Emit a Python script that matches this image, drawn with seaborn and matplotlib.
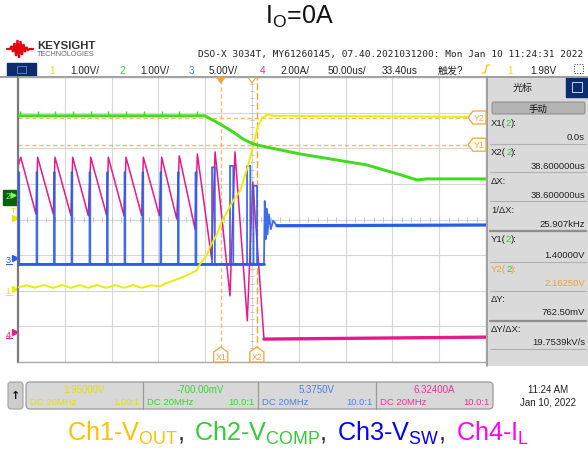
import numpy as np
import matplotlib
matplotlib.use("Agg")
import matplotlib.pyplot as plt
import seaborn as sns
from matplotlib.patches import FancyBboxPatch, Rectangle, Polygon
from matplotlib.offsetbox import TextArea, HPacker, AnnotationBbox, DrawingArea

sns.set_theme(style="white")
plt.rcParams['font.family'] = ['Liberation Sans', 'Noto Sans CJK SC', 'DejaVu Sans']
plt.rcParams['mathtext.fontset'] = 'custom'
plt.rcParams['mathtext.rm'] = 'Liberation Sans'
plt.rcParams['mathtext.it'] = 'Liberation Sans:italic'
plt.rcParams['mathtext.bf'] = 'Liberation Sans:bold'

# ---------------- scope settings ----------------
ch_names = ["1", "2", "3", "4"]
ch_scale = [1.00, 1.00, 5.00, 2.00]
ch_offset = [1.95, -0.70, 5.375, 6.324]
ch_scale_text = ["1.00V/", "1.00V/", "5.00V/", "2.00A/"]
ch_offset_text = ["1.95000V", "-700.00mV", "5.3750V", "6.32400A"]
ch_probe_text = ["1.00:1", "10.0:1", "10.0:1", "10.0:1"]
trace_colors = ['#ecec0a', '#3ddc1c', '#2a5ce8', '#e8198c']
text_colors = ['#e6e000', '#33d633', '#4d7fe6', '#e6359a']
legend_colors = ['#FFC000', '#33CC33', '#0000FF', '#FF00FF']
time_per_div = 50.0   # us/div
time_delay = 33.40    # us
trig_level = 1.98     # V on ch1
x1_cursor = 0.0       # us
x2_cursor = 38.6      # us
y1_cursor = 1.40      # V on ch2
y2_cursor = 2.1625    # V on ch2

# ---------------- waveforms (time in us) ----------------
# Ch1 VOUT
vout_t = [-216.6, -207.0, -198.4, -188.8, -179.2, -169.6, -160.0, -150.4, -141.8, -132.2,
          -122.6, -113.0, -103.4, -93.7, -84.1, -74.5, -64.9, -57.4, -48.9, -40.3,
          -33.2, -25.4, -22.2, -14.7, -11.5, -4.0, 1.4, 13.1, 20.6, 29.1,
          34.5, 39.8, 44.1, 49.4, 58.0, 283.4]
vout_v = [0.05, 0.10, 0.04, 0.11, 0.03, 0.11, 0.03, 0.11, 0.03, 0.11,
          0.03, 0.11, 0.03, 0.11, 0.03, 0.10, 0.08, 0.17, 0.25, 0.34,
          0.42, 0.53, 0.70, 0.95, 1.18, 1.54, 1.91, 2.47, 2.75, 3.45,
          4.01, 4.58, 4.80, 4.89, 4.86, 4.83]
# Ch2 VCOMP
vcomp_t = [-216.6, -16.8, -0.8, 13.1, 23.8, 34.5, 49.4, 84.7, 156.3, 191.5, 209.7, 220.4, 283.4]
vcomp_v = [2.21, 2.21, 1.98, 1.76, 1.56, 1.42, 1.33, 1.14, 0.83, 0.56, 0.41, 0.44, 0.44]
vcomp_spike = [0.0, 0.13]
# Ch3 VSW : switching pulses
sw_rise = [-216.1, -196.8, -178.1, -159.4, -140.2, -121.5, -102.8, -83.6, -64.4, -45.7,
           -27.0, -9.3, 9.9, 28.1, 35.0]
sw_fall = [-215.3, -196.0, -177.3, -158.6, -139.4, -120.7, -102.0, -82.8, -63.6, -44.9,
           -26.0, -6.3, 13.4, 31.6, 38.8]
sw_high = [12.0, 12.0, 12.0, 12.0, 12.0, 12.0, 12.0, 12.0, 12.0, 12.0,
           12.0, 12.7, 12.9, 12.9, 10.1]
sw_low = -0.87
sw_ring_t = [46.2, 47.0, 48.0, 49.0, 50.0, 51.5, 53.5, 56.0, 60.0, 283.4]
sw_ring_v = [-0.87, 7.97, 2.6, 6.9, 3.3, 6.1, 4.0, 5.2, 4.5, 4.6]
# Ch4 IL
il_t = [-216.6, -213.7, -197.4, -195.6, -178.9, -177.1, -160.0, -158.2, -141.5, -138.9,
        -121.8, -120.1, -103.4, -101.2, -84.4, -82.7, -65.6, -63.1, -47.0, -44.3,
        -27.5, -25.0, -9.7, -6.1, 9.9, 15.2, 28.4, 34.2, 46.2, 283.4]
il_a = [9.33, 9.82, 6.63, 9.82, 6.63, 9.82, 6.54, 9.82, 6.54, 9.82,
        6.54, 9.82, 6.54, 9.82, 6.54, 9.82, 6.54, 9.82, 6.35, 9.90,
        5.79, 10.00, 4.11, 10.12, 2.04, 10.12, 0.64, 8.43, -0.39, -0.28]

# logo waveform (decorative)
logo_x = [7, 10, 11.5, 13, 14.5, 16, 17.5, 19, 20.5, 22, 23.5, 25, 26.5, 28, 30, 33]
logo_y = [50, 50, 47, 53, 44, 57, 41, 59, 42, 56, 45, 53, 48, 51, 50, 50]

# ---------------- geometry ----------------
W, H = 588, 452
PL, PR, PT, PB = 18, 486, 78, 363
PXDIV = (PR - PL) / 10.0
PYDIV = (PB - PT) / 8.0
PYC = (PT + PB) / 2.0
xl = time_delay - 5 * time_per_div
xr = time_delay + 5 * time_per_div


def to_div(v, ch):
    return (np.asarray(v, dtype=float) - ch_offset[ch]) / ch_scale[ch]


def t2px(t):
    return PL + (t - xl) / time_per_div * PXDIV


def d2py(d):
    return PYC - d * PYDIV


fig = plt.figure(figsize=(W / 100, H / 100), dpi=100)
fig.patch.set_facecolor('white')

bg = fig.add_axes([0, 0, 1, 1], zorder=0)
bg.set_xlim(0, W); bg.set_ylim(H, 0); bg.set_axis_off()

ax = fig.add_axes([PL / W, 1 - PB / H, (PR - PL) / W, (PB - PT) / H], zorder=2)
fg = fig.add_axes([0, 0, 1, 1], zorder=5)
fg.set_xlim(0, W); fg.set_ylim(H, 0); fg.set_axis_off()

# ---------------- main scope grid ----------------
ax.set_facecolor('white')
ax.set_xlim(xl, xr)
ax.set_ylim(-4, 4)
ax.set_xticks(xl + time_per_div * np.arange(11))
ax.set_yticks(np.arange(-4, 5))
ax.grid(True, color='#d6d6d6', lw=0.8)
ax.tick_params(length=0, labelbottom=False, labelleft=False)
for s in ['top', 'right', 'bottom']:
    ax.spines[s].set_color('#a8a8a8'); ax.spines[s].set_linewidth(1.0)
ax.spines['left'].set_color('#7a7a7a'); ax.spines['left'].set_linewidth(1.6)
ax.vlines(np.arange(xl, xr + 0.1, time_per_div / 5), -0.07, 0.07, color='#c4c4c4', lw=0.7, zorder=1)
ax.hlines(np.arange(-4, 4.01, 0.2), time_delay - 2.3, time_delay + 2.3, color='#c4c4c4', lw=0.7, zorder=1)

orange = '#f5a337'
ax.axvline(x1_cursor, color=orange, lw=1.0, ls=(0, (3, 2)), alpha=0.75, zorder=1.5)
ax.axvline(x2_cursor, color=orange, lw=1.0, ls=(0, (5, 2)), zorder=1.5)
ax.axhline(float(to_div(y1_cursor, 1)), color=orange, lw=1.0, ls=(0, (3, 2)), alpha=0.75, zorder=1.5)
ax.axhline(float(to_div(y2_cursor, 1)), color=orange, lw=1.0, ls=(0, (3, 2)), alpha=0.75, zorder=1.5)

# ---------------- traces ----------------
sns.lineplot(x=il_t, y=to_div(il_a, 3), ax=ax, sort=False, estimator=None,
             color=trace_colors[3], linewidth=1.1, legend=False, zorder=3)
sns.lineplot(x=il_t[-2:], y=to_div(il_a[-2:], 3), ax=ax, sort=False, estimator=None,
             color=trace_colors[3], linewidth=2.4, legend=False, zorder=3)
sw_t_all = [xl]
sw_v_all = [sw_low]
for r, f, h in zip(sw_rise, sw_fall, sw_high):
    sw_t_all += [r, r, f, f]
    sw_v_all += [sw_low, h, h, sw_low]
sw_t_all += sw_ring_t
sw_v_all += sw_ring_v
sns.lineplot(x=sw_t_all, y=to_div(sw_v_all, 2), ax=ax, sort=False, estimator=None,
             color=trace_colors[2], linewidth=1.3, alpha=0.9, legend=False, zorder=3.2)
# thicker noisy baseline bands of the switch node
sns.lineplot(x=[xl, sw_ring_t[0]], y=to_div([sw_low, sw_low], 2), ax=ax, sort=False, estimator=None,
             color=trace_colors[2], linewidth=2.0, legend=False, zorder=3.2)
sns.lineplot(x=sw_ring_t[-2:], y=to_div(sw_ring_v[-2:], 2), ax=ax, sort=False, estimator=None,
             color=trace_colors[2], linewidth=2.3, legend=False, zorder=3.2)
sns.lineplot(x=vout_t, y=to_div(vout_v, 0), ax=ax, sort=False, estimator=None,
             color=trace_colors[0], linewidth=1.4, legend=False, zorder=3.4)
sns.lineplot(x=vcomp_t, y=to_div(vcomp_v, 1), ax=ax, sort=False, estimator=None,
             color=trace_colors[1], linewidth=2.1, legend=False, zorder=3.6)
spike_t = [t for t in sw_rise if t < vcomp_t[1]]
ax.vlines(np.array(spike_t) + 1.5, float(to_div(vcomp_v[0] + vcomp_spike[0], 1)),
          float(to_div(vcomp_v[0] + vcomp_spike[1], 1)), color=trace_colors[1], lw=1.0, zorder=3.6)
ax.set_xlabel(''); ax.set_ylabel('')

# ---------------- cursor labels / markers (fg) ----------------
for lab, t in [("X1", x1_cursor), ("X2", x2_cursor)]:
    cx = t2px(t)
    fg.add_patch(Polygon([(cx - 7, 363), (cx - 7, 353), (cx, 348), (cx + 7, 353), (cx + 7, 363)],
                         closed=True, fc='white', ec=orange, lw=0.9))
    fg.text(cx, 357.5, lab, color=orange, fontsize=6.3, ha='center', va='center')
for lab, v in [("Y2", y2_cursor), ("Y1", y1_cursor)]:
    cy = d2py(float(to_div(v, 1)))
    fg.add_patch(Polygon([(486, cy - 6.5), (473, cy - 6.5), (468, cy), (473, cy + 6.5), (486, cy + 6.5)],
                         closed=True, fc='white', ec=orange, lw=0.9))
    fg.text(479.5, cy, lab, color=orange, fontsize=6.3, ha='center', va='center')
tx0 = t2px(0.0)
fg.add_patch(Polygon([(tx0 - 4, 78.5), (tx0 + 4, 78.5), (tx0, 84)], closed=True, fc=orange, ec=orange, lw=0.8))
txc = t2px(time_delay)
fg.add_patch(Polygon([(txc - 4, 78.5), (txc + 4, 78.5), (txc, 84)], closed=True, fc='white', ec=orange, lw=0.8))

# ---------------- channel ground markers (left) ----------------
for i in range(4):
    gy = d2py(float(to_div(0.0, i)))
    if i == 1:
        bg.add_patch(Rectangle((3, gy - 5), 14, 15, fc='#0d5e0d', ec='#0d5e0d'))
        bg.text(8, gy + 1, ch_names[i], color='#7dff5a', fontsize=6.5, ha='center', va='center')
        bg.plot([13], [gy], marker='>', ms=3.5, color='#7dff5a', lw=0)
    else:
        bg.text(8, gy + 2, ch_names[i], color=trace_colors[i] if i != 0 else '#e8e800',
                fontsize=6.5, ha='center', va='center')
        bg.plot([14.5], [gy], marker='>', ms=4, color=trace_colors[i], lw=0)
        bg.plot([6, 12], [gy + 6, gy + 6], color=trace_colors[i], lw=0.8)
ty = d2py(float(to_div(trig_level, 0)))
bg.text(13, ty - 8, "T", color='#e8e800', fontsize=6, ha='center', va='center')
bg.plot([15], [ty], marker='>', ms=4, color='#e8e800', lw=0)

# ---------------- header ----------------
fig.text(299 / W, 1 - 17 / H, r"$\mathregular{I}_{\mathregular{O}}$=0A", fontsize=18,
         ha='center', va='center', color='#111111')
bg.plot(logo_x, logo_y, color='#e60012', lw=1.6, solid_joinstyle='miter')
bg.text(37, 46, "KEYSIGHT", fontsize=8.2, fontweight='bold', color='#333333', ha='left', va='center')
bg.text(37, 54.5, "TECHNOLOGIES", fontsize=5.2, color='#666666', ha='left', va='center')
bg.text(198, 55, "DSO-X 3034T, MY61260145, 07.40.2021031200: Mon Jan 10 11:24:31 2022",
        fontsize=6.8, family='DejaVu Sans Mono', color='#222222', ha='left', va='center')
bg.add_patch(Rectangle((7, 64), 29, 13, fc='#0b2c6e', ec='#0b2c6e'))
bg.add_patch(Rectangle((17, 67), 9, 7, fc='none', ec='#6f86c0', lw=0.6))
row_y = 70.5
hx = [(49, ch_names[0], text_colors[0]), (70, ch_scale_text[0], '#222222'),
      (119, ch_names[1], text_colors[1]), (140, ch_scale_text[1], '#222222'),
      (189, ch_names[2], text_colors[2]), (209, ch_scale_text[2], '#222222'),
      (260, ch_names[3], text_colors[3]), (280, ch_scale_text[3], '#222222'),
      (328, "%.2fus/" % time_per_div, '#222222'), (382, "%.2fus" % time_delay, '#222222'),
      (438, "触发?", '#222222'), (507, "1", text_colors[0]), (530, "%.2fV" % trig_level, '#222222')]
for x, s, c in hx:
    bg.text(x, row_y, s, fontsize=7.2, color=c, ha='left', va='center')
bg.plot([482, 485, 487, 490], [74, 74, 66, 66], color='#f0d000', lw=0.9)
bg.add_patch(Rectangle((574, 65), 9, 9, fc='none', ec='#333333', lw=0.7, ls=':'))
bg.plot([0, W], [77.5, 77.5], color='#9c9c9c', lw=1.4)

# ---------------- right cursor panel ----------------
bg.add_patch(Rectangle((487, 78), 101, 289, fc='#dadada', ec='none'))
bg.plot([487, 487], [78, 367], color='#8c8c8c', lw=1.2)
bg.text(523, 88, "光标", fontsize=7.2, color='#222222', ha='center', va='center')
bg.add_patch(Rectangle((566, 78), 22, 20, fc='#0b2c6e', ec='#0b2c6e'))
bg.add_patch(Rectangle((572, 83), 10, 10, fc='none', ec='#c8d4ee', lw=0.7))
bg.add_patch(FancyBboxPatch((492, 103), 93, 12, boxstyle="round,pad=0,rounding_size=2",
                            fc='#b4b4b4', ec='#8a8a8a', lw=0.7))
bg.text(538, 109, "手动", fontsize=6.8, color='#111111', ha='center', va='center')


def chain_text(axh, x, y, parts, size):
    t = axh.text(x, y, parts[0][0], color=parts[0][1], fontsize=size, ha='left', va='center')
    for s, c in parts[1:]:
        t = axh.annotate(s, xy=(1, 0), xycoords=t, color=c, fontsize=size, ha='left', va='bottom')
    return t


dx = x2_cursor - x1_cursor
dy = y2_cursor - y1_cursor
rows = [
    ([("X1(", '#222222'), ("2", '#2ecc2e'), ("):", '#222222')], "%.1fs" % x1_cursor, '#222222', 123, 138),
    ([("X2(", '#222222'), ("2", '#2ecc2e'), ("):", '#222222')], "%.6fus" % x2_cursor, '#222222', 153, 167),
    ([("ΔX:", '#222222')], "%.6fus" % dx, '#222222', 182, 196),
    ([("1/ΔX:", '#222222')], "%.3fkHz" % (1e3 / dx), '#222222', 211, 225),
    ([("Y1(", '#222222'), ("2", '#2ecc2e'), ("):", '#222222')], "%.5fV" % y1_cursor, '#222222', 240, 255),
    ([("Y2(", '#f0a030'), ("2", '#2ecc2e'), ("):", '#f0a030')], "%.5fV" % y2_cursor, '#f0a030', 270, 284),
    ([("ΔY:", '#222222')], "%.2fmV" % (dy * 1e3), '#222222', 300, 313),
    ([("ΔY/ΔX:", '#222222')], "%.4fkV/s" % (dy / dx * 1e3), '#222222', 330, 343),
]
for parts, val, vc, ly, vy in rows:
    chain_text(bg, 491, ly, parts, 6.8)
    bg.text(585, vy, val, fontsize=6.8, color=vc, ha='right', va='center')
for sy, lw, c in [(145, 0.8, '#b0b0b0'), (173, 0.8, '#b0b0b0'), (202, 0.8, '#b0b0b0'),
                  (232, 1.6, '#8e8e8e'), (263, 0.8, '#b0b0b0'), (292, 0.8, '#b0b0b0'),
                  (322, 1.6, '#8e8e8e'), (350, 0.8, '#b0b0b0')]:
    bg.plot([490, 586], [sy, sy], color=c, lw=lw)

# ---------------- bottom channel bar ----------------
bg.add_patch(FancyBboxPatch((8, 383), 15, 27, boxstyle="round,pad=0,rounding_size=3",
                            fc='#cdcdcd', ec='#a0a0a0', lw=0.8))
bg.text(15.5, 396.5, "↑", fontsize=8, fontweight='bold', color='#111111', ha='center', va='center',
        family='DejaVu Sans')
bg.add_patch(FancyBboxPatch((26, 383), 467, 27, boxstyle="round,pad=0,rounding_size=4",
                            fc='#d8d8d8', ec='#9a9a9a', lw=0.9))
sec_edges = [26, 143, 258, 376, 493]
for xe in sec_edges[1:-1]:
    bg.plot([xe, xe], [383, 410], color='#9a9a9a', lw=0.9)
for i in range(4):
    a, b = sec_edges[i], sec_edges[i + 1]
    bg.text((a + b) / 2, 390, ch_offset_text[i], fontsize=7, color=text_colors[i], ha='center', va='center')
    bg.text(a + 4, 403, "DC 20MHz", fontsize=6.8, color=text_colors[i], ha='left', va='center')
    bg.text(b - 3, 403, ch_probe_text[i], fontsize=6.8, color=text_colors[i], ha='right', va='center')
bg.text(548, 390, "11:24 AM", fontsize=7, color='#222222', ha='center', va='center')
bg.text(548, 403, "Jan 10, 2022", fontsize=7, color='#222222', ha='center', va='center')

# ---------------- coloured legend line ----------------
leg_items = [("Ch1-$\\mathregular{V}_{\\mathregular{OUT}}$", legend_colors[0]),
             ("Ch2-$\\mathregular{V}_{\\mathregular{COMP}}$", legend_colors[1]),
             ("Ch3-$\\mathregular{V}_{\\mathregular{SW}}$", legend_colors[2]),
             ("Ch4-$\\mathregular{I}_{\\mathregular{L}}$", legend_colors[3])]
children = []
for k, (s, c) in enumerate(leg_items):
    children.append(TextArea(s, textprops=dict(color=c, fontsize=18.2)))
    if k < len(leg_items) - 1:
        children.append(TextArea(",", textprops=dict(color='#222222', fontsize=18.2)))
        children.append(DrawingArea(7, 1))
pack = HPacker(children=children, align="baseline", pad=0, sep=0)
ab = AnnotationBbox(pack, (298, 433), xycoords='data', frameon=False, box_alignment=(0.5, 0.5))
bg.add_artist(ab)

fig.savefig("out.png", dpi=100, facecolor='white')
